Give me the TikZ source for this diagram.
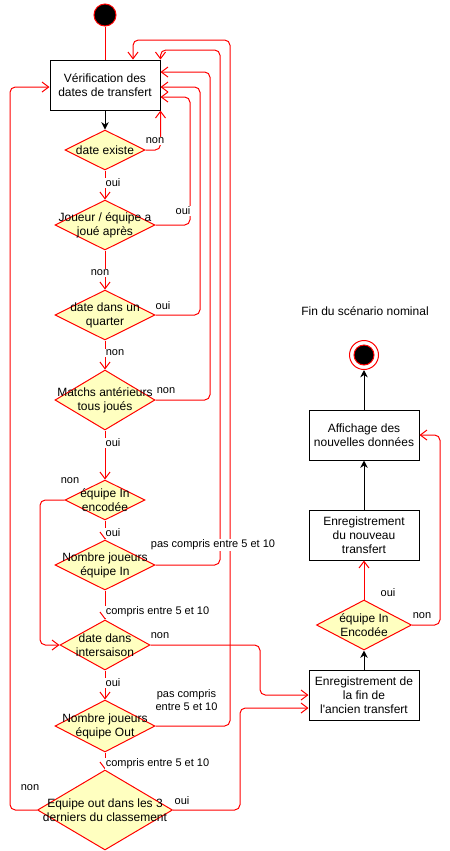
\documentclass[tikz,border=0pt]{standalone}
\usepackage{fontspec}
\setmainfont{Liberation Sans}
\usepackage{xcolor}
\usepackage{tikz}
\usetikzlibrary{arrows.meta, shapes.geometric}
\definecolor{rouge}{HTML}{FF0000}
\definecolor{jaune}{HTML}{FFFFC0}
\tikzset{
  every picture/.style={font=\fontsize{9}{10.5}\selectfont},
  act/.style={draw=black, fill=white, line width=0.75pt, minimum width=82.5pt,
              minimum height=37.5pt, inner sep=2pt, align=center},
  dec/.style={diamond, draw=rouge, fill=jaune, line width=0.75pt, inner sep=0pt},
  dtxt/.style={align=center, inner sep=0pt},
  etiq/.style={font=\fontsize{8.25}{9.5}\selectfont, fill=white, inner sep=0.5pt, align=center},
  flecher/.style={draw=rouge, line width=0.75pt, rounded corners=4pt,
                  -{Straight Barb[length=5pt, width=7.5pt]}},
  flechen/.style={draw=black, line width=0.75pt, -{Stealth[length=5.5pt, width=5.5pt]}},
}

\begin{document}
\begin{tikzpicture}[x=0.75pt, y=-0.75pt]
  \useasboundingbox (0,0) rectangle (450,851);
  \fill[white] (0,0) rectangle (450,851);
  % colonne de gauche
  \node[circle, fill=black, draw=rouge, line width=0.75pt, minimum size=16.5pt, inner sep=0pt] (debut) at (105,15) {};
  \node[act] (v) at (105,85) {Vérification des\\dates de transfert};
  \node[dec, minimum width=60pt, minimum height=30pt, label={[dtxt]center:date existe}] (d1) at (105,150) {};
  \node[dec, minimum width=75pt, minimum height=37.5pt, label={[dtxt]center:{Joueur / équipe a\\joué après}}] (d2) at (105,225) {};
  \node[dec, minimum width=75pt, minimum height=37.5pt, label={[dtxt]center:{date dans un\\quarter}}] (d3) at (105,315) {};
  \node[dec, minimum width=75pt, minimum height=45pt, label={[dtxt]center:{Matchs antérieurs\\tous joués}}] (d4) at (105,400) {};
  \node[dec, minimum width=60pt, minimum height=30pt, label={[dtxt]center:{équipe In\\encodée}}] (d5) at (105,500) {};
  \node[dec, minimum width=75pt, minimum height=37.5pt, label={[dtxt]center:{Nombre joueurs\\équipe In}}] (d6) at (105,565) {};
  \node[dec, minimum width=67.5pt, minimum height=37.5pt, label={[dtxt]center:{date dans\\intersaison}}] (d7) at (105,645) {};
  \node[dec, minimum width=75pt, minimum height=39pt, label={[dtxt]center:{Nombre joueurs\\équipe Out}}] (d8) at (105,726) {};
  \node[dec, minimum width=101.25pt, minimum height=60pt, label={[dtxt]center:{Equipe out dans les 3\\derniers du classement}}] (d9) at (105,810) {};
  % colonne de droite
  \node (titre) at (365,311) {Fin du scénario nominal};
  \node[circle, draw=rouge, fill=white, line width=0.75pt, minimum size=21.75pt, inner sep=0pt] (fin) at (364,355) {};
  \node[circle, fill=black, draw=rouge, line width=0.75pt, minimum size=15pt, inner sep=0pt] (finin) at (fin) {};
  \node[act] (a) at (364,435) {Affichage des\\nouvelles données};
  \node[act] (n) at (364,535) {Enregistrement\\du nouveau\\transfert};
  \node[dec, minimum width=71.25pt, minimum height=37.5pt, label={[dtxt]center:{équipe In\\Encodée}}] (ed) at (364,625) {};
  \node[act] (f) at (364,695) {Enregistrement de\\la fin de\\l\textquotesingle ancien transfert};
  % liens
  \draw[draw=rouge, line width=0.75pt] (debut) -- (v);
  \draw[flechen] (v) -- (d1);
  \foreach \a/\b in {d1/d2, d2/d3, d3/d4, d4/d5, d5/d6, d6/d7, d7/d8, d8/d9}
    \draw[flecher] (\a) -- (\b);
  \draw[flecher] (d1.east) -| (v.south east);
  \draw[flecher] (d2.east) -| (190,97) -- (v.east |- 0,97);
  \draw[flecher] (d3.east) -| (200,87) -- (v.east |- 0,87);
  \draw[flecher] (d4.east) -| (210,72) -- (v.east |- 0,72);
  \draw[flecher] (d6.east) -| (220,50) -| (v.north east);
  \draw[flecher] (d8.east) -| (230,40) -| (v.north -| 133,0);
  \draw[flecher] (d5.west) -| (40,645) -- (d7.west);
  \draw[flecher] (d9.west) -| (10,87) -- (v.west |- 0,87);
  \draw[flecher] (d7.east) -| (260,695) -- (f.west);
  \draw[flecher] (d9.east) -| (240,708) -- (f.west |- 0,708);
  \draw[flechen] (f) -- (ed);
  \draw[flecher] (ed) -- (n);
  \draw[flecher] (ed.east) -| (440,435) -- (a.east);
  \draw[flechen] (n) -- (a);
  \draw[flechen] (a) -- (fin);
  % etiquettes
  \node[etiq] (e1) at (155,141) {non};
  \node[etiq] (e2) at (113,183) {oui};
  \node[etiq] (e3) at (183,211) {oui};
  \node[etiq] (e4) at (100,273) {non};
  \node[etiq] (e5) at (163,306) {oui};
  \node[etiq] (e6) at (115,353) {non};
  \node[etiq] (e7) at (166,391) {non};
  \node[etiq] (e8) at (113,443) {oui};
  \node[etiq] (e9) at (70,481) {non};
  \node[etiq] (e10) at (113,533) {oui};
  \node[etiq] (e11) at (213,545) {pas compris entre 5 et 10};
  \node[etiq] (e12) at (157.5,612) {compris entre 5 et 10};
  \node[etiq] (e13) at (160,636) {non};
  \node[etiq] (e14) at (113,683) {oui};
  \node[etiq] (e15) at (186.5,700) {pas compris\\entre 5 et 10};
  \node[etiq] (e16) at (157.5,764) {compris entre 5 et 10};
  \node[etiq] (e17) at (30,788) {non};
  \node[etiq] (e18) at (182,801) {oui};
  \node[etiq] (e19) at (388,593) {oui};
  \node[etiq] (e20) at (422,616) {non};
\end{tikzpicture}
\end{document}
